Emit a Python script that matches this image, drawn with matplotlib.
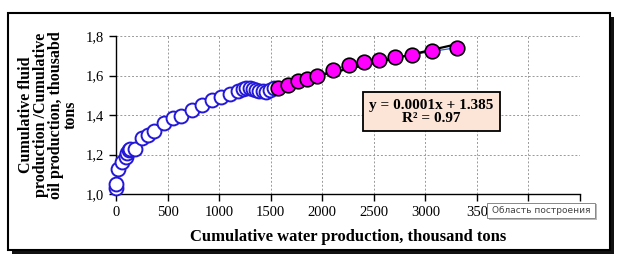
import numpy as np
import matplotlib
matplotlib.use("Agg")
import matplotlib.pyplot as plt
from matplotlib.patches import Rectangle

# Data
early_x = [0, 0, 22, 55, 94, 103, 125, 135, 184, 249, 307, 368, 468, 549, 629, 733,
           833, 932, 1016, 1104, 1184, 1232, 1265, 1303, 1329, 1355, 1387, 1426, 1458,
           1497, 1529]
early_y = [1.03, 1.05, 1.125, 1.163, 1.189, 1.209, 1.222, 1.226, 1.226, 1.282, 1.30,
           1.319, 1.358, 1.383, 1.396, 1.425, 1.449, 1.476, 1.492, 1.506, 1.521, 1.530,
           1.535, 1.535, 1.531, 1.525, 1.52, 1.52, 1.515, 1.525, 1.535]
late_x = [1575, 1665, 1762, 1850, 1948, 2100, 2259, 2410, 2549, 2710, 2872, 3066, 3305]
late_y = [1.537, 1.552, 1.572, 1.582, 1.598, 1.627, 1.655, 1.668, 1.678, 1.693, 1.705,
          1.722, 1.741]
x_ticks = [0, 500, 1000, 1500, 2000, 2500, 3000, 3500, 4000, 4500]
x_ticklabels = ["0", "500", "1000", "1500", "2000", "2500", "3000", "350", "", ""]
y_ticks = [1.0, 1.2, 1.4, 1.6, 1.8]
y_ticklabels = ["1,0", "1,2", "1,4", "1,6", "1,8"]
eq_text = "y = 0.0001x + 1.385\nR² = 0.97"
tooltip_text = "Область построения"

W, H = 624, 262
fig = plt.figure(figsize=(W / 100, H / 100), dpi=100)
fig.patch.set_facecolor("white")

def fx(px):
    return px / W

def fy(py):
    return 1 - py / H

# outer chart frame with shadow
fig.patches.append(Rectangle((fx(12), fy(254)), fx(614) - fx(12), fy(17) - fy(254),
                             transform=fig.transFigure, facecolor="#111111",
                             edgecolor="none", zorder=0))
fig.patches.append(Rectangle((fx(8), fy(250)), fx(610) - fx(8), fy(13) - fy(250),
                             transform=fig.transFigure, facecolor="white",
                             edgecolor="black", linewidth=1.5, zorder=1))

ax = fig.add_axes([fx(116), fy(194), fx(580) - fx(116), fy(36) - fy(194)])
ax.set_zorder(2)
ax.set_facecolor("white")
ax.set_xlim(0, 4500)
ax.set_ylim(1.0, 1.8)
ax.set_xticks(x_ticks)
ax.set_xticklabels(x_ticklabels)
ax.set_yticks(y_ticks)
ax.set_yticklabels(y_ticklabels)
ax.grid(True, color="#999999", linestyle=(0, (2, 2)), linewidth=0.7)
ax.set_axisbelow(True)
for s in ["top", "right"]:
    ax.spines[s].set_visible(False)
for s in ["left", "bottom"]:
    ax.spines[s].set_linewidth(1.0)
ax.tick_params(direction="out", length=5, width=1, labelsize=10.5, pad=4)
for lab in ax.get_xticklabels() + ax.get_yticklabels():
    lab.set_family("Liberation Serif")

ax.plot(early_x, early_y, linestyle="none", marker="o", markersize=10,
        markerfacecolor="white", markeredgecolor="#2418D8", markeredgewidth=1.4,
        zorder=3, clip_on=False)
ax.plot(late_x, late_y, color="#3060E0", linewidth=0.9, zorder=3)
coef = np.polyfit(late_x, late_y, 1)
tx = np.array([late_x[0], late_x[-1]])
ax.plot(tx, np.polyval(coef, tx), color="black", linewidth=1.6, zorder=4)
ax.plot(late_x, late_y, linestyle="none", marker="o", markersize=10.5,
        markerfacecolor="#FF00FF", markeredgecolor="black", markeredgewidth=1.2,
        zorder=5)

ax.text(0.68, 0.52, eq_text, transform=ax.transAxes, ha="center", va="center",
        family="Liberation Serif", fontweight="bold", fontsize=11, zorder=6,
        linespacing=1.05,
        bbox=dict(boxstyle="square,pad=0.4", facecolor="#FCE4D6",
                  edgecolor="black", linewidth=1.3))

ax.set_xlabel("Cumulative water production, thousand tons", family="Liberation Serif",
              fontweight="bold", fontsize=12, labelpad=7)
ax.set_ylabel("Cumulative fluid\nproduction /Cumulative\noil production, thousabd\ntons",
              family="Liberation Serif", fontweight="bold", fontsize=11.5,
              linespacing=0.9, labelpad=5)

# tooltip with small shadow
fig.patches.append(Rectangle((fx(489), fy(220)), fx(597) - fx(489), fy(204) - fy(220),
                             transform=fig.transFigure, facecolor="#BBBBBB",
                             edgecolor="none", zorder=9))
fig.patches.append(Rectangle((fx(487), fy(218)), fx(595) - fx(487), fy(202.5) - fy(218),
                             transform=fig.transFigure, facecolor="white",
                             edgecolor="#888888", linewidth=0.7, zorder=10))
fig.text(fx(541), fy(210.3), tooltip_text, ha="center", va="center", fontsize=6.5,
         family="DejaVu Sans", color="#444444", zorder=11)

fig.savefig("out.png", dpi=100)
